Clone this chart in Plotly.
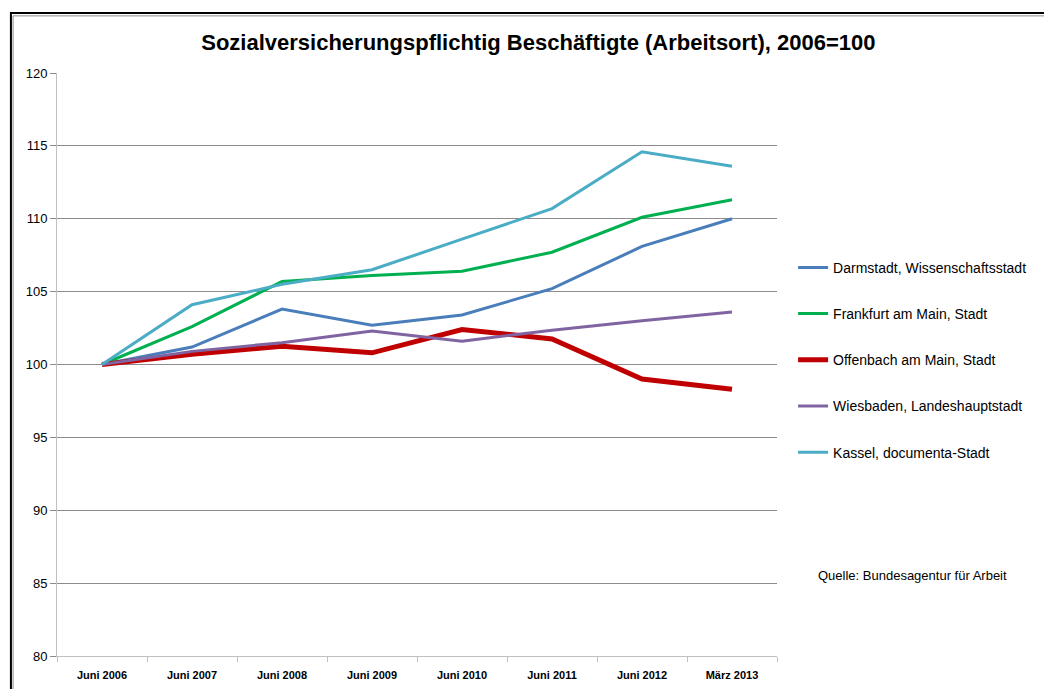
import plotly.graph_objects as go

kategorien = ["Juni 2006", "Juni 2007", "Juni 2008", "Juni 2009", "Juni 2010",
              "Juni 2011", "Juni 2012", "März 2013"]

darmstadt = [100, 101.2, 103.8, 102.7, 103.4, 105.2, 108.1, 110.0]
frankfurt = [100, 102.6, 105.7, 106.1, 106.4, 107.7, 110.1, 111.3]
offenbach = [100, 100.7, 101.25, 100.8, 102.4, 101.75, 99.0, 98.3]
wiesbaden = [100, 100.9, 101.5, 102.3, 101.6, 102.35, 103.0, 103.6]
kassel = [100, 104.1, 105.5, 106.5, 108.6, 110.7, 114.6, 113.6]

namen = ["Darmstadt, Wissenschaftsstadt", "Frankfurt am Main, Stadt",
         "Offenbach am Main, Stadt", "Wiesbaden, Landeshauptstadt",
         "Kassel, documenta-Stadt"]
farben = ["#4a7ebb", "#00b050", "#c00000", "#8064a2", "#4bacc6"]
breiten = [3, 3, 5, 3, 3]

schrift = "Liberation Sans, Arial, sans-serif"

fig = go.Figure()
for i, werte in enumerate([darmstadt, frankfurt, offenbach, wiesbaden, kassel]):
    fig.add_trace(go.Scatter(x=kategorien, y=werte, mode="lines", name=namen[i],
                             legendgroup=str(i),
                             line=dict(color=farben[i], width=breiten[i])))

# die Seite hat 8px Rand, deshalb 1044x681
fig.update_layout(
    width=1044, height=681,
    margin=dict(l=49, r=275, t=65, b=33),
    paper_bgcolor="white", plot_bgcolor="white",
    title=dict(text="<b>Sozialversicherungspflichtig Beschäftigte (Arbeitsort), 2006=100</b>",
               x=0.508, xanchor="center", y=0.95, yanchor="middle",
               font=dict(family=schrift, size=22, color="black")),
    font=dict(family=schrift, color="black"),
    showlegend=True,
    legend=dict(xref="container", yref="container", x=0.752, xanchor="left",
                y=0.642, yanchor="top",
                font=dict(family=schrift, size=14, color="black"),
                tracegroupgap=25, itemwidth=30, bgcolor="rgba(0,0,0,0)"),
    xaxis=dict(type="category", range=[-0.5, 7.5], showgrid=False, showline=True,
               linecolor="#bfbfbf", automargin=False,
               ticks="outside", tickson="boundaries", tickcolor="#bfbfbf", ticklen=5,
               ticklabelstandoff=9,
               tickfont=dict(family=schrift, size=11, color="black"),
               tickprefix="<b>", ticksuffix="</b>"),
    yaxis=dict(range=[80, 120], dtick=5, showgrid=True, gridcolor="#8c8c8c", gridwidth=1,
               showline=True, linecolor="#bfbfbf", ticks="outside", tickcolor="#8c8c8c",
               ticklen=6, automargin=False,
               tickfont=dict(family=schrift, size=13, color="black"),
               zeroline=False),
)

fig.add_annotation(text="Quelle: Bundesagentur für Arbeit", xref="paper", yref="paper",
                   x=1.054, y=0.138, xanchor="left", yanchor="middle", showarrow=False,
                   font=dict(family=schrift, size=13, color="black"))

# Rahmen des Diagramms (doppelte Linie)
fig.add_shape(type="rect", xref="paper", yref="paper", x0=-0.064, y0=-0.2, x1=1.5, y1=1.103,
              line=dict(color="black", width=2), layer="below")
fig.add_shape(type="rect", xref="paper", yref="paper", x0=-0.061, y0=-0.2, x1=1.5, y1=1.098,
              line=dict(color="#8c8c8c", width=1), layer="below")

fig.write_html("out.html")
